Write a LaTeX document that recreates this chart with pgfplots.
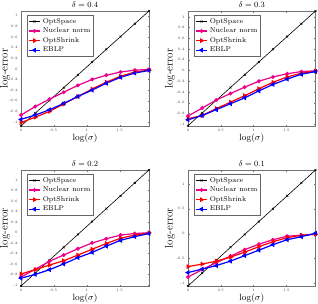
\documentclass[border=0pt]{standalone}
\usepackage{pgfplots}
\pgfplotsset{compat=1.18}
\begin{document}
\begin{tikzpicture}
\pgfplotsset{
 panel/.style={
  scale only axis, width=128pt, height=115pt,
  xmin=0, xmax=1.9459,
  xtick={0,0.5,1,1.5},
  xticklabels={0,0.5,1,1.5},
  tick align=inside,
  major tick length=1.5pt,
  axis line style={black!55, line width=0.4pt},
  every tick/.style={black!55, line width=0.3pt},
  tick label style={font=\fontsize{3.6}{4}\selectfont, text=black!75},
  xlabel={$\log(\sigma)$},
  ylabel={log-error},
  every axis title shift=0pt,
  xlabel style={font=\fontsize{9.5}{10}\selectfont, at={(axis description cs:0.5,-0.108)}, anchor=center, inner sep=0pt},
  ylabel style={font=\fontsize{11}{12}\selectfont, at={(axis description cs:-0.125,0.5)}, anchor=center, inner sep=0pt},
  title style={font=\fontsize{8.5}{10}\selectfont, at={(axis description cs:0.5,1.03)}, anchor=base, inner sep=0pt},
  legend style={at={(0.047,0.965)}, anchor=north west, font=\fontsize{7}{7}\selectfont, draw=black!60, line width=0.4pt, inner sep=1pt, row sep=-0.8pt, legend cell align=left},
  legend image code/.code={\draw[mark repeat=2,mark phase=2] plot coordinates {(0cm,0cm) (0.2cm,0cm) (0.4cm,0cm)};},
 },
 os/.style={black, line width=0.6pt, mark=x, mark size=1.3pt},
 nn/.style={magenta, line width=1.2pt, mark=*, mark size=1.3pt},
 sh/.style={red, line width=1.2pt, mark=triangle*, mark size=1.7pt, mark options={rotate=-90}},
 eb/.style={blue, line width=1.2pt, mark=triangle*, mark size=1.7pt, mark options={rotate=90}},
 ytA/.style={ytick={-1,-0.8,-0.6,-0.4,-0.2,0,0.2,0.4,0.6,0.8,1}, yticklabels={-1,-0.8,-0.6,-0.4,-0.2,0,0.2,0.4,0.6,0.8,1}},
}
% delta = 0.4
\begin{axis}[panel, ytA, at={(21pt,177pt)}, anchor=south west, ymin=-1.075, ymax=1.088, title={$\delta=0.4$}]
\addplot[os] coordinates {(0,-1.075) (0.2162,-0.835) (0.4324,-0.594) (0.6486,-0.354) (0.8649,-0.114) (1.0811,0.127) (1.2973,0.367) (1.5135,0.607) (1.7297,0.848) (1.9459,1.088)};
\addplot[nn] coordinates {(0,-0.87) (0.2162,-0.71) (0.4324,-0.57) (0.6486,-0.44) (0.8649,-0.31) (1.0811,-0.20) (1.2973,-0.12) (1.5135,-0.06) (1.7297,-0.025) (1.9459,-0.01)};
\addplot[sh] coordinates {(0,-1.01) (0.2162,-0.91) (0.4324,-0.80) (0.6486,-0.66) (0.8649,-0.52) (1.0811,-0.38) (1.2973,-0.25) (1.5135,-0.14) (1.7297,-0.06) (1.9459,-0.025)};
\addplot[eb] coordinates {(0,-0.95) (0.2162,-0.87) (0.4324,-0.77) (0.6486,-0.65) (0.8649,-0.52) (1.0811,-0.40) (1.2973,-0.27) (1.5135,-0.16) (1.7297,-0.08) (1.9459,-0.03)};
\legend{OptSpace,Nuclear norm,OptShrink,EBLP}
\end{axis}
% delta = 0.3
\begin{axis}[panel, ytA, at={(188pt,177pt)}, anchor=south west, width=127.5pt, ymin=-1.035, ymax=1.11, title={$\delta=0.3$}, ylabel style={at={(axis description cs:-0.142,0.5)}}]
\addplot[os] coordinates {(0,-1.03) (0.2162,-0.792) (0.4324,-0.554) (0.6486,-0.317) (0.8649,-0.079) (1.0811,0.159) (1.2973,0.397) (1.5135,0.634) (1.7297,0.872) (1.9459,1.11)};
\addplot[nn] coordinates {(0,-0.85) (0.2162,-0.70) (0.4324,-0.55) (0.6486,-0.43) (0.8649,-0.31) (1.0811,-0.20) (1.2973,-0.12) (1.5135,-0.06) (1.7297,-0.02) (1.9459,-0.005)};
\addplot[sh] coordinates {(0,-0.90) (0.2162,-0.84) (0.4324,-0.71) (0.6486,-0.59) (0.8649,-0.47) (1.0811,-0.34) (1.2973,-0.22) (1.5135,-0.12) (1.7297,-0.05) (1.9459,-0.01)};
\addplot[eb] coordinates {(0,-0.92) (0.2162,-0.84) (0.4324,-0.73) (0.6486,-0.62) (0.8649,-0.51) (1.0811,-0.38) (1.2973,-0.26) (1.5135,-0.16) (1.7297,-0.07) (1.9459,-0.02)};
\legend{OptSpace,Nuclear norm,OptShrink,EBLP}
\end{axis}
% delta = 0.2
\begin{axis}[panel, ytA, at={(21pt,17pt)}, anchor=south west, height=116pt, ymin=-1.02, ymax=1.19, title={$\delta=0.2$}]
\addplot[os] coordinates {(0,-1.02) (0.2162,-0.774) (0.4324,-0.529) (0.6486,-0.283) (0.8649,-0.038) (1.0811,0.208) (1.2973,0.454) (1.5135,0.699) (1.7297,0.945) (1.9459,1.19)};
\addplot[nn] coordinates {(0,-0.85) (0.2162,-0.70) (0.4324,-0.55) (0.6486,-0.43) (0.8649,-0.31) (1.0811,-0.20) (1.2973,-0.12) (1.5135,-0.05) (1.7297,-0.02) (1.9459,-0.005)};
\addplot[sh] coordinates {(0,-0.79) (0.2162,-0.71) (0.4324,-0.62) (0.6486,-0.54) (0.8649,-0.43) (1.0811,-0.32) (1.2973,-0.21) (1.5135,-0.11) (1.7297,-0.05) (1.9459,-0.01)};
\addplot[eb] coordinates {(0,-0.87) (0.2162,-0.80) (0.4324,-0.71) (0.6486,-0.60) (0.8649,-0.48) (1.0811,-0.38) (1.2973,-0.26) (1.5135,-0.15) (1.7297,-0.08) (1.9459,-0.02)};
\legend{OptSpace,Nuclear norm,OptShrink,EBLP}
\end{axis}
% delta = 0.1
\begin{axis}[panel, at={(188pt,17pt)}, anchor=south west, width=127.5pt, height=116pt, ymin=-1.05, ymax=1.28, ytick={-1,-0.5,0,0.5,1}, yticklabels={-1,-0.5,0,0.5,1}, title={$\delta=0.1$}, ylabel style={at={(axis description cs:-0.142,0.5)}}]
\addplot[os] coordinates {(0,-1.05) (0.2162,-0.791) (0.4324,-0.532) (0.6486,-0.273) (0.8649,-0.014) (1.0811,0.245) (1.2973,0.503) (1.5135,0.762) (1.7297,1.021) (1.9459,1.28)};
\addplot[nn] coordinates {(0,-0.87) (0.2162,-0.72) (0.4324,-0.58) (0.6486,-0.45) (0.8649,-0.32) (1.0811,-0.21) (1.2973,-0.12) (1.5135,-0.05) (1.7297,-0.03) (1.9459,-0.01)};
\addplot[sh] coordinates {(0,-0.66) (0.2162,-0.61) (0.4324,-0.55) (0.6486,-0.47) (0.8649,-0.37) (1.0811,-0.26) (1.2973,-0.16) (1.5135,-0.08) (1.7297,-0.03) (1.9459,-0.01)};
\addplot[eb] coordinates {(0,-0.78) (0.2162,-0.71) (0.4324,-0.64) (0.6486,-0.55) (0.8649,-0.44) (1.0811,-0.33) (1.2973,-0.22) (1.5135,-0.12) (1.7297,-0.06) (1.9459,0.01)};
\legend{OptSpace,Nuclear norm,OptShrink,EBLP}
\end{axis}
\pgfresetboundingbox
\path (0,0) rectangle (318pt,303pt);
\end{tikzpicture}
\end{document}
